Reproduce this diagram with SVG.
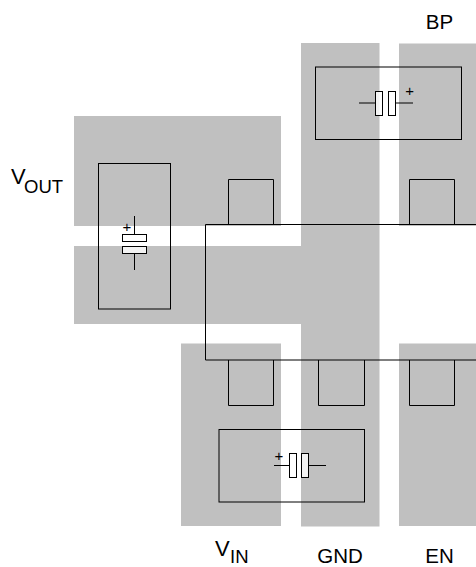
<svg xmlns="http://www.w3.org/2000/svg" width="476" height="567" viewBox="0 0 476 567">
<style>
.pad{fill:#c0c0c0;stroke:none}
.ln{fill:none;stroke:#000;stroke-width:1}
.pl{fill:#fff;stroke:#000;stroke-width:1;fill-opacity:.8}
.t{font-family:"Liberation Sans",Arial,sans-serif;font-size:20.500px;fill:#000}
.v{font-size:22px}
.s{font-size:18.500px}
.plus{font-family:"Liberation Sans",Arial,sans-serif;font-size:15px;fill:#000;text-anchor:middle}
</style>
<rect width="476" height="567" fill="#fff"/>
<g id="pads">
<rect class="pad" x="74" y="116" width="207" height="110"/>
<rect class="pad" x="74" y="246" width="228" height="78"/>
<rect class="pad" x="301" y="43" width="78.500" height="483.500"/>
<rect class="pad" x="399" y="43.500" width="77" height="182.500"/>
<rect class="pad" x="181" y="343.500" width="100" height="182.500"/>
<rect class="pad" x="399" y="343.500" width="77" height="182.500"/>
</g>
<g id="connectors">
<path class="ln" d="M476 224.500H205.500V360H476"/>
</g>
<g id="pin-vin"><path class="ln" d="M228.500 360V405.500H273.500V360"/></g>
<g id="pin-gnd"><path class="ln" d="M318.500 360V405.500H364.500V360"/></g>
<g id="pin-en"><path class="ln" d="M409.500 360V405.500H454.500V360"/></g>
<g id="pin-vout"><path class="ln" d="M228.500 224.500V179.500H273.500V224.500"/></g>
<g id="pin-bp"><path class="ln" d="M409.500 224.500V179.500H454.500V224.500"/></g>
<g id="cap-vout">
<rect class="ln" x="98.500" y="163.500" width="72" height="145.500"/>
<path class="ln" d="M134.500 216V234M134.500 253V270"/>
<rect class="pl" x="122.500" y="234.500" width="24" height="7"/>
<rect class="pl" x="122.500" y="246.500" width="24" height="7"/>
<text class="plus" x="127" y="231.700">+</text>
</g>
<g id="cap-bp">
<rect class="ln" x="315.500" y="67" width="146" height="72.500"/>
<path class="ln" d="M359 103H375.500M395.500 103H413"/>
<rect class="pl" x="375.500" y="91.500" width="7" height="24"/>
<rect class="pl" x="388.500" y="91.500" width="7" height="24"/>
<text class="plus" x="409.700" y="96.300">+</text>
</g>
<g id="cap-vin">
<rect class="ln" x="219" y="429.500" width="145.500" height="72.500"/>
<path class="ln" d="M274 465.500H289.500M308.500 465.500H326"/>
<rect class="pl" x="289.500" y="453.500" width="7" height="24"/>
<rect class="pl" x="301.500" y="453.500" width="7" height="24"/>
<text class="plus" x="279" y="461.300">+</text>
</g>
<g id="labels">
<text class="t" x="439.500" y="29" text-anchor="middle">BP</text>
<text class="t v" x="11" y="184">V<tspan class="s" x="24" y="193">OUT</tspan></text>
<text class="t v" x="215" y="556">V<tspan class="s" x="230" y="563">IN</tspan></text>
<text class="t" x="340" y="563" text-anchor="middle">GND</text>
<text class="t" x="439.500" y="563" text-anchor="middle">EN</text>
</g>
</svg>
